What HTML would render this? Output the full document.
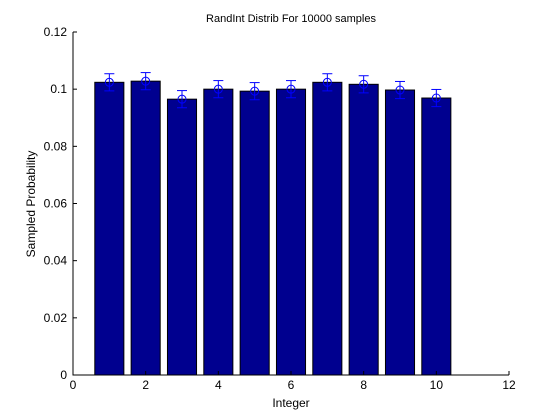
<!DOCTYPE html>
<html><head><meta charset="utf-8"><style>
body{margin:0;background:#fff}
svg{display:block;font-family:"Liberation Sans",Arial,sans-serif}
</style></head><body>
<svg id="c" width="560" height="420"></svg>
<script>
const categories=[1,2,3,4,5,6,7,8,9,10];
const probs=[0.1024,0.1028,0.0965,0.1000,0.0993,0.1000,0.1024,0.1017,0.0997,0.0969];
const errs=[0.003,0.003,0.003,0.003,0.003,0.003,0.003,0.003,0.003,0.003];
const xTicks=[0,2,4,6,8,10,12];
const yTicks=[0,0.02,0.04,0.06,0.08,0.1,0.12];
const yTickLabels=["0","0.02","0.04","0.06","0.08","0.1","0.12"];
const svg=document.getElementById('c');
const NS='http://www.w3.org/2000/svg';
const X=v=>73+v*(436/12);
const Y=v=>375-v*(343/0.12);
function mk(t,a,p){const e=document.createElementNS(NS,t);for(const k in a)e.setAttribute(k,a[k]);(p||svg).appendChild(e);return e;}
categories.forEach((c,i)=>{
  const g=mk('g',{});
  
  
  mk('rect',{x:X(c-0.4),y:Y(probs[i]),width:X(0.8)-X(0),height:Y(0)-Y(probs[i]),fill:'#00008f',stroke:'#000','stroke-width':1},g);
  const eb=mk('g',{stroke:'#0000ff','stroke-width':1,fill:'none'},g);
  
  
  const x=X(c),y1=Y(probs[i]+errs[i]),y2=Y(probs[i]-errs[i]);
  mk('line',{x1:x,x2:x,y1:y1,y2:y2},eb);
  mk('line',{x1:x-5,x2:x+5,y1:y1,y2:y1},eb);
  mk('line',{x1:x-5,x2:x+5,y1:y2,y2:y2},eb);
  mk('circle',{cx:x,cy:Y(probs[i]),r:4},eb);
});
const ax=mk('g',{stroke:'#000','stroke-width':1});


mk('line',{x1:73,x2:73,y1:Y(0.12),y2:375.5},ax);
mk('line',{x1:73,x2:509,y1:375,y2:375},ax);
xTicks.forEach(t=>{
  mk('line',{x1:X(t),x2:X(t),y1:375,y2:371},ax);
  const tx=mk('text',{x:X(t),y:389,'text-anchor':'middle','font-size':12,fill:'#000',stroke:'none'});
  
  
  tx.textContent=t;
});
yTicks.forEach((t,i)=>{
  mk('line',{x1:73,x2:77,y1:Y(t),y2:Y(t)},ax);
  const tx=mk('text',{x:67,y:Y(t)+4,'text-anchor':'end','font-size':12,fill:'#000',stroke:'none'});
  
  
  tx.textContent=yTickLabels[i];
});
</script>
<svg style="position:absolute;left:0;top:0" width="560" height="420">
<text x="291" y="22" text-anchor="middle" font-size="11" font-family="Liberation Sans, sans-serif">RandInt Distrib For 10000 samples</text>
<text x="291" y="407" text-anchor="middle" font-size="12" font-family="Liberation Sans, sans-serif">Integer</text>
<text transform="translate(35,204) rotate(-90)" text-anchor="middle" font-size="12" font-family="Liberation Sans, sans-serif">Sampled Probability</text>
</svg>
</body></html>
